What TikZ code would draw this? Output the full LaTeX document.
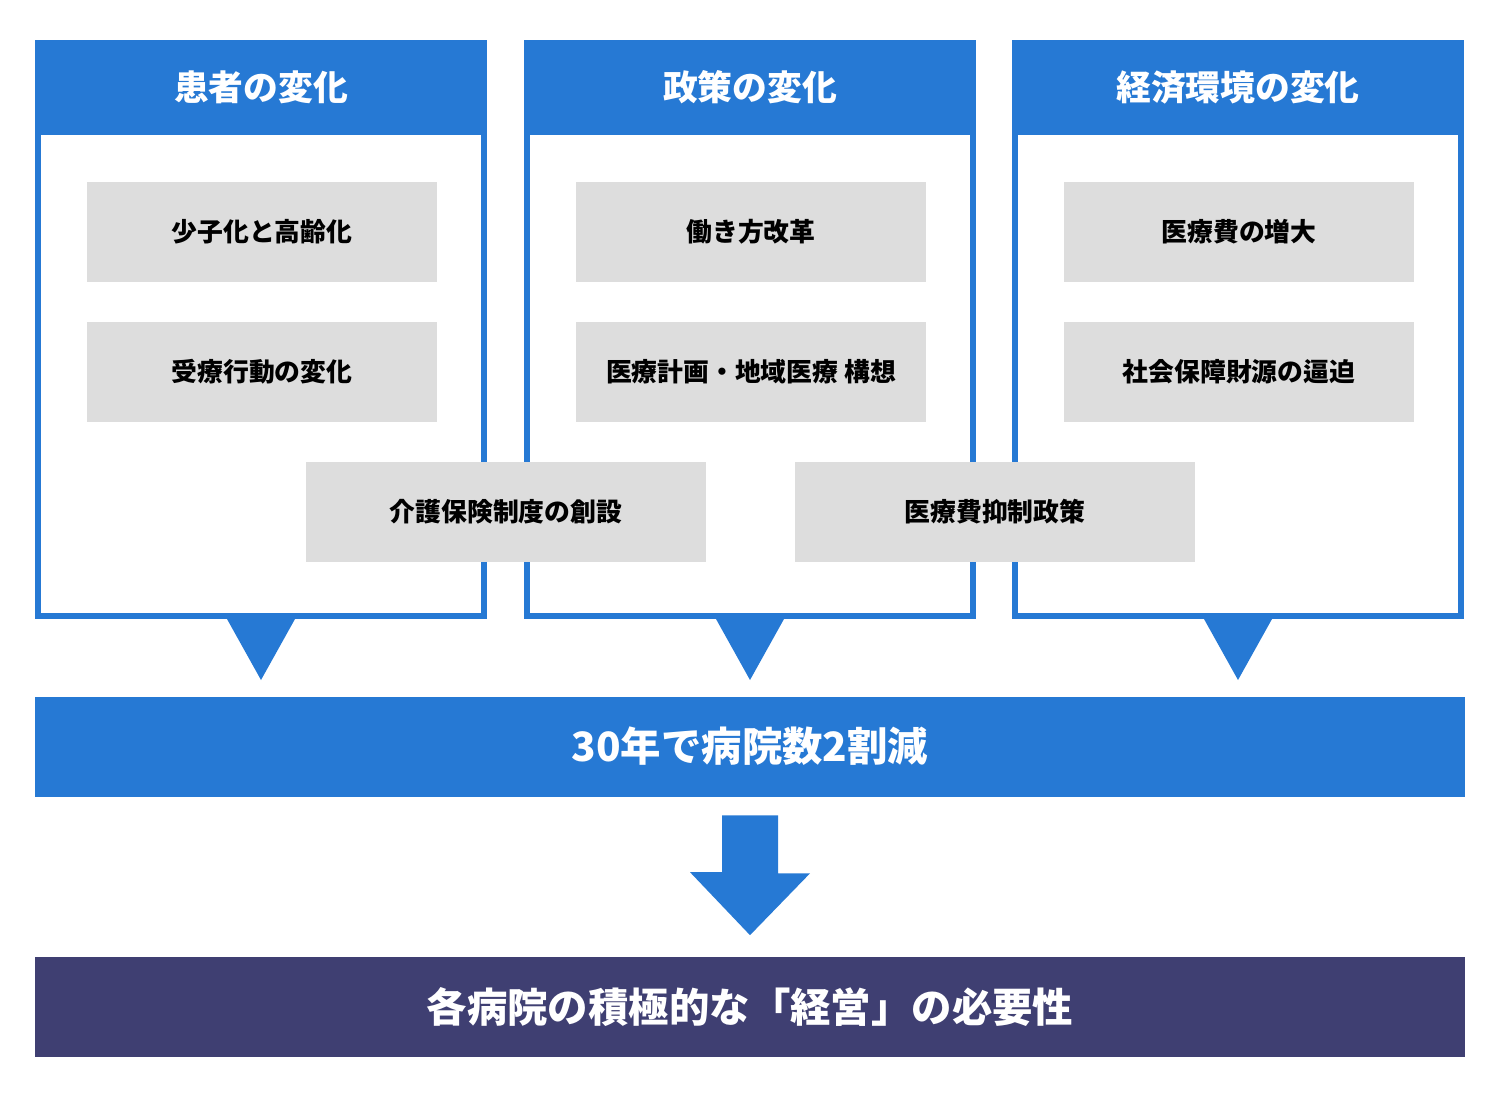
\documentclass[tikz,border=0pt]{standalone}
\usepackage{fontspec}
\setmainfont{Noto Sans CJK JP}
\usetikzlibrary{positioning}
\usetikzlibrary{calc}
\definecolor{hdblue}{HTML}{2679D4}
\definecolor{itemgray}{HTML}{DDDDDD}
\definecolor{goalpurple}{HTML}{3F3F72}
\tikzstyle{frame}=[draw=hdblue,line width=0.12cm]
\tikzstyle{header}=[fill=hdblue,text=white,font=\bfseries\fontsize{19.8}{24}\selectfont,minimum width=9.04cm,minimum height=1.9cm,inner sep=0pt]
\tikzstyle{item}=[fill=itemgray,font=\bfseries\fontsize{14.7}{18}\selectfont,minimum width=7cm,minimum height=2cm,inner sep=0pt]
\tikzstyle{wideitem}=[item,minimum width=8cm]
\tikzstyle{bar}=[minimum width=28.6cm,minimum height=2cm,inner sep=0pt,text=white,font=\bfseries\fontsize{23}{28}\selectfont]
\tikzstyle{pointer}=[fill=hdblue]

\begin{document}
\begin{tikzpicture}[x=0.02cm,y=-0.02cm]
    \useasboundingbox (0,0) rectangle (1500,1100);

    % three columns
    \foreach \cx/\name/\label in {261/pat/患者の変化, 750/pol/政策の変化, 1238/eco/経済環境の変化}{
        \draw[frame] (\cx-223,43) rectangle (\cx+223,616);
        \node[header] (\name) at (\cx,87.5) {\label};
        \fill[pointer] (\cx-34,619) -- (\cx+34,619) -- (\cx,680) -- cycle;
    }

    \foreach \pos/\name/\label in {{(262,232)/low/少子化と高齢化}, {(262,372)/beh/受療行動の変化}, {(751,232)/work/働き方改革}, {(751,372)/plan/医療計画・地域医療 構想}, {(1239,232)/cost/医療費の増大}, {(1239,372)/fund/社会保障財源の逼迫}}
        \node[item] (\name) at \pos {\label};

    \foreach \pos/\name/\label in {{(506,512)/care/介護保険制度の創設}, {(995,512)/curb/医療費抑制政策}}
        \node[wideitem] (\name) at \pos {\label};

    \node[bar,fill=hdblue] (cut) at (750,746.5) {30年で病院数2割減};
    \node[bar,fill=goalpurple] (need) at (750,1006.5) {各病院の積極的な「経営」の必要性};

    \fill[pointer] ($(cut.south)+(-28,18.5)$) -- ++(56,0) -- ++(0,58) -- ++(32,0) -- ($(need.north)+(0,-21)$) -- ++(-60,-63) -- ++(32,0) -- cycle;

\end{tikzpicture}
\end{document}
